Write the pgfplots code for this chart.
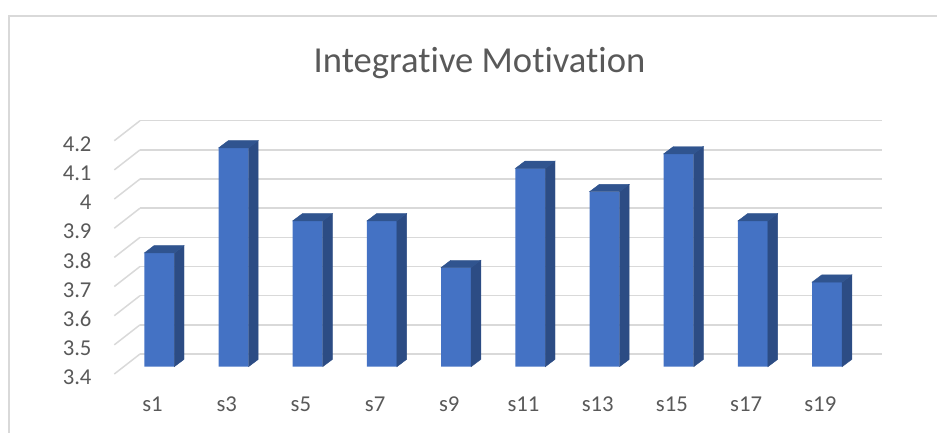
\documentclass[border=0pt]{standalone}
\usepackage{pgfplots}
\usepackage{pgfplotstable}
\pgfplotsset{compat=1.18}
\usepackage{fontspec}
\setmainfont{Carlito}[Ligatures={NoCommon}]
\definecolor{txt}{HTML}{595959}
\definecolor{gridc}{HTML}{D9D9D9}
\definecolor{barfront}{HTML}{4472C4}
\definecolor{barside}{HTML}{2C4C84}
\definecolor{bartop}{HTML}{30548F}
\pgfdeclareplotmark{void}{}
\pgfplotstableread{
x y
0 3.79
1 4.15
2 3.90
3 3.90
4 3.74
5 4.08
6 4.00
7 4.13
8 3.90
9 3.69
}\data
\begin{document}
\begin{tikzpicture}[x=1pt,y=1pt]
\clip (0,0) rectangle (937,432);
\draw[gridc, line width=2pt] (9,-10) -- (9,416) -- (950,416);
\node[anchor=base, text=txt, font=\fontsize{36.6}{44}\selectfont, inner sep=0pt] at (479.5,359.3) {Integrative Motivation};
% back wall with grid
\begin{axis}[at={(140pt,78pt)}, anchor=south west, scale only axis,
  width=742pt, height=233.3pt, xmin=0, xmax=10, ymin=3.4, ymax=4.2,
  xtick=\empty, ytick={3.4,3.5,3.6,3.7,3.8,3.9,4,4.1,4.2},
  yticklabels={3.4,3.5,3.6,3.7,3.8,3.9,4,4.1,4.2},
  ymajorgrids, grid style={gridc, line width=1.5pt},
  axis line style={draw=none}, major tick length=0pt,
  yticklabel style={anchor=east, inner sep=0pt, xshift=-48.3pt, yshift=-23.3pt, text=txt, font=\fontsize{22.7}{27}\selectfont},
  clip=false]
\pgfplotsinvokeforeach{3.4,3.5,3.6,3.7,3.8,3.9,4.0,4.1,4.2}{\draw[gridc, line width=1.5pt] (axis cs:0,#1) -- ++(-25.7pt,-20pt);}
\end{axis}
% bars
\begin{axis}[at={(122.2pt,65.3pt)}, anchor=south west, scale only axis,
  width=742pt, height=233.3pt, xmin=-0.5, xmax=9.5, ymin=3.4, ymax=4.2,
  ytick=\empty, xtick={0,1,2,3,4,5,6,7,8,9},
  xticklabels={s1,s3,s5,s7,s9,s11,s13,s15,s17,s19},
  axis line style={draw=none}, major tick length=0pt,
  xticklabel style={anchor=north, inner sep=0pt, xshift=-6.8pt, yshift=-30pt, text=txt, font=\fontsize{22.7}{27}\selectfont}]
\addplot[ybar, bar width=30pt, bar shift=0pt, fill=barfront, draw=none] table[x=x,y=y]{\data};
\addplot[scatter, only marks, mark=void,
  visualization depends on={\thisrow{y} \as \valy},
  scatter/@pre marker code/.code={%
    \pgfmathsetmacro\h{(\valy-3.4)*291.625}%
    \begin{scope}
    \fill[barside] (15pt,0pt) -- (15pt,-\h pt) -- (24.7pt,-\h pt+7.3pt) -- (24.7pt,7.3pt) -- cycle;
    \fill[bartop] (-15pt,0pt) -- (15pt,0pt) -- (24.7pt,7.3pt) -- (-5.3pt,7.3pt) -- cycle;
    \end{scope}},
  scatter/@post marker code/.code={}] table[x=x,y=y]{\data};
\end{axis}
\end{tikzpicture}
\end{document}
